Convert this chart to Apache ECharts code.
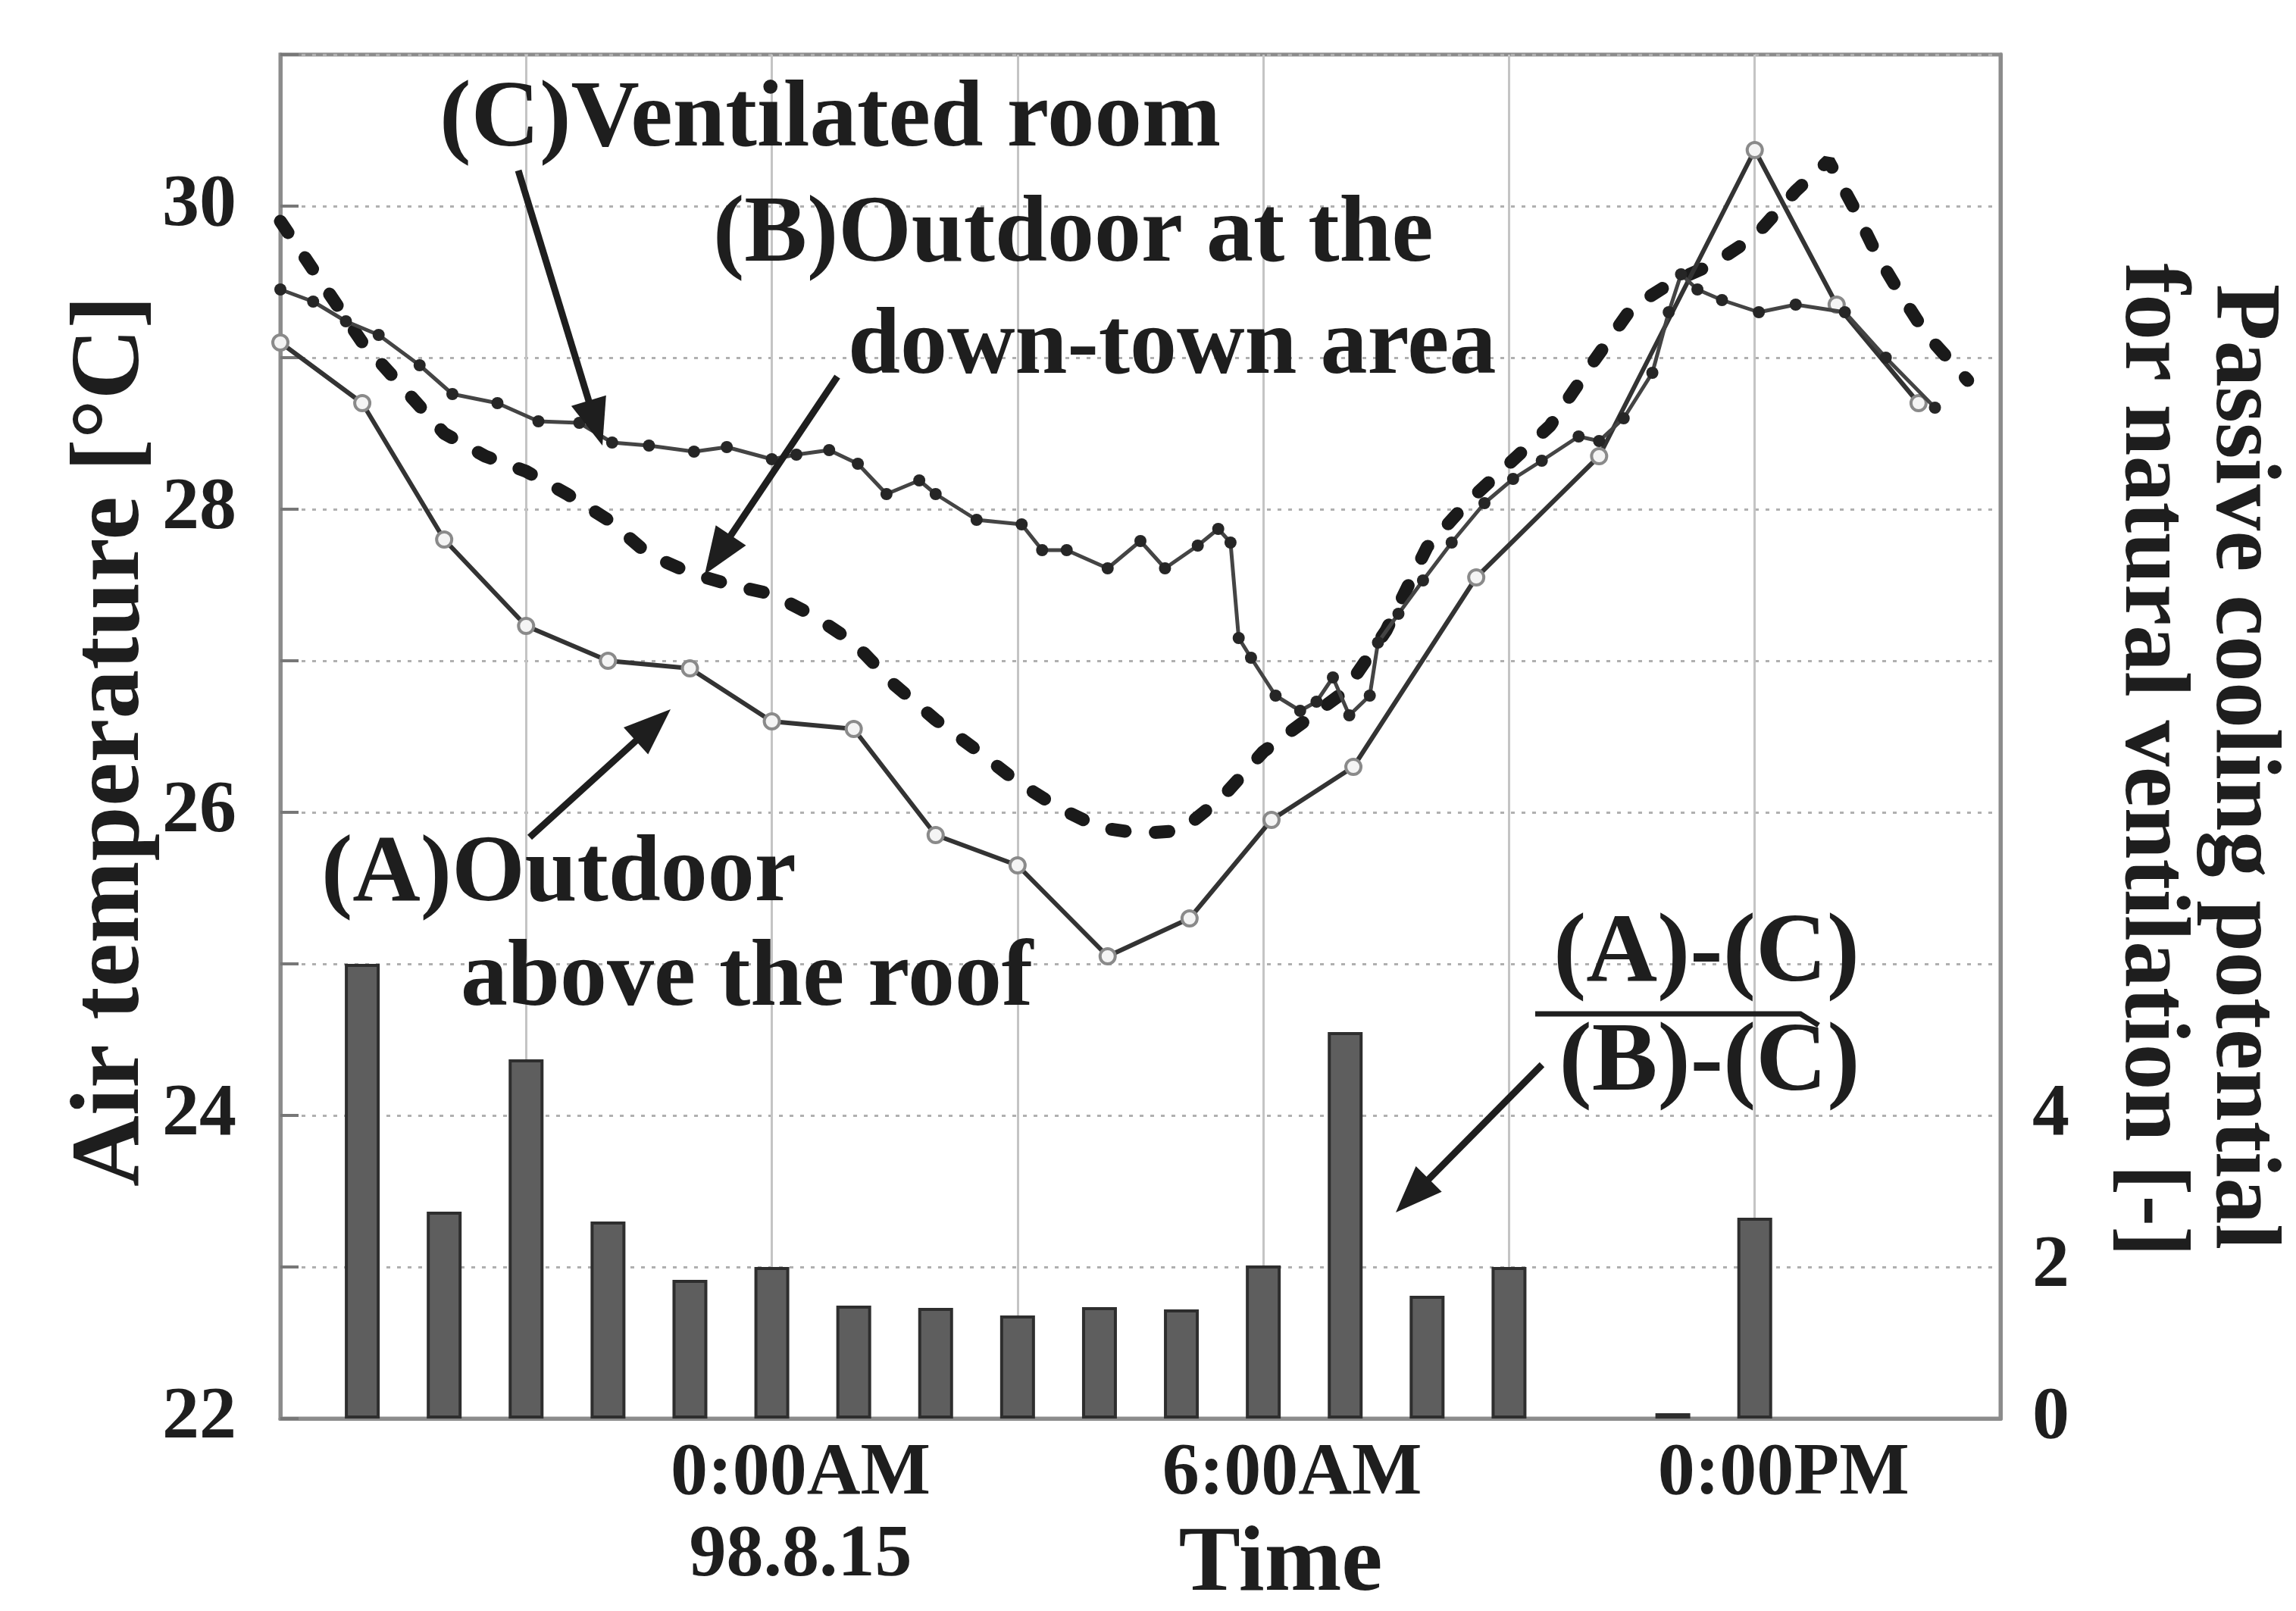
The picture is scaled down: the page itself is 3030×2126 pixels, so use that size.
<!DOCTYPE html>
<html><head><meta charset="utf-8">
<script src="https://cdn.jsdelivr.net/npm/echarts@6/dist/echarts.min.js"></script>
<style>html,body{margin:0;padding:0;background:#fff}#c{width:3030px;height:2126px}</style>
</head><body><div id="c"></div>
<script>
// ---- tick labels ----
const xTickHours = [0, 6, 12];
const xTickLabels = ['0:00AM\n98.8.15', '6:00AM', '0:00PM'];
const leftTickValues = [22, 24, 26, 28, 30];
const rightTickValues = [0, 2, 4];

// ---- (A) Outdoor above the roof (hours from 0:00 on 98.8.15, deg C) ----
const aHours = [-6, -5, -4, -3, -2, -1, 0, 1, 2, 3, 4.1, 5.1, 6.1, 7.1, 8.6, 10.1, 12, 13, 14];
const aTemps = [29.1, 28.7, 27.8, 27.23, 27.0, 26.95, 26.6, 26.55, 25.85, 25.65, 25.05, 25.3, 25.95, 26.3, 27.55, 28.35, 30.37, 29.35, 28.7];

// ---- (B) Outdoor at the down-town area ----
const bHours = [-6, -5.5, -5, -4.5, -4, -3.5, -3, -2.5, -2, -1.5, -1, -0.5, 0, 0.5, 1, 1.5, 2, 2.5, 3, 3.5, 4, 4.5, 5, 5.5, 6, 6.5, 7, 7.5, 8, 8.5, 9, 9.5, 10, 10.5, 11, 11.5, 12, 12.5, 12.9, 13.2, 13.5, 13.8, 14.1, 14.6];
const bTemps = [29.9, 29.5, 29.1, 28.8, 28.5, 28.35, 28.25, 28.1, 27.93, 27.7, 27.58, 27.5, 27.44, 27.3, 27.12, 26.84, 26.61, 26.41, 26.2, 26.03, 25.9, 25.86, 25.88, 26.1, 26.4, 26.6, 26.8, 27.2, 27.75, 28.05, 28.3, 28.55, 28.95, 29.33, 29.5, 29.62, 29.8, 30.1, 30.3, 30.0, 29.67, 29.4, 29.15, 28.85];

// ---- (C) Ventilated room ----
const cHours = [-6, -5.6, -5.2, -4.8, -4.3, -3.9, -3.35, -2.85, -2.35, -1.95, -1.5, -0.95, -0.55, 0, 0.3, 0.7, 1.05, 1.4, 1.8, 2.0, 2.5, 3.05, 3.3, 3.6, 4.1, 4.5, 4.8, 5.2, 5.45, 5.6, 5.7, 5.85, 6.15, 6.45, 6.65, 6.85, 7.05, 7.3, 7.4, 7.65, 7.95, 8.3, 8.7, 9.05, 9.4, 9.85, 10.1, 10.4, 10.75, 10.95, 11.1, 11.3, 11.6, 12.05, 12.5, 13.1, 13.6, 14.2];
const cTemps = [29.45, 29.37, 29.24, 29.15, 28.95, 28.76, 28.7, 28.58, 28.57, 28.44, 28.42, 28.38, 28.41, 28.33, 28.36, 28.39, 28.3, 28.1, 28.19, 28.1, 27.93, 27.9, 27.73, 27.73, 27.61, 27.79, 27.61, 27.76, 27.87, 27.78, 27.15, 27.02, 26.77, 26.67, 26.73, 26.89, 26.64, 26.77, 27.12, 27.31, 27.53, 27.78, 28.04, 28.2, 28.32, 28.48, 28.45, 28.6, 28.9, 29.3, 29.55, 29.45, 29.38, 29.3, 29.35, 29.3, 29.0, 28.67];

// ---- Passive cooling potential (A)-(C) / (B)-(C) ----
const barHours = [-5, -4, -3, -2, -1, 0, 1, 2, 3, 4, 5, 6, 7, 8, 9, 11, 12];
const barValues = [6.0, 2.73, 4.74, 2.6, 1.83, 2.0, 1.49, 1.46, 1.36, 1.47, 1.44, 2.02, 5.1, 1.62, 2.0, 0.07, 2.65];

const SERIF = '"Liberation Serif", "Times New Roman", serif';
const INK = '#1e1e1e';

function txt(text, x, y, size, opts) {
  opts = opts || {};
  return {
    type: 'text', x: x, y: y, rotation: opts.rotation || 0, z: 100,
    style: {
      text: text, fill: INK,
      font: 'bold ' + size + 'px ' + SERIF,
      align: opts.align || 'left', verticalAlign: 'middle',
      textAlign: opts.align || 'left', textVerticalAlign: 'middle'
    }
  };
}
function arrow(x1, y1, x2, y2) {
  const dx = x2 - x1, dy = y2 - y1, L = Math.sqrt(dx * dx + dy * dy);
  const ux = dx / L, uy = dy / L, hl = 62, hw = 24;
  const bx = x2 - ux * hl, by = y2 - uy * hl;
  return [
    { type: 'line', z: 100, shape: { x1: x1, y1: y1, x2: bx + ux * 10, y2: by + uy * 10 },
      style: { stroke: INK, lineWidth: 9 } },
    { type: 'polygon', z: 100, shape: { points: [[x2, y2], [bx - uy * hw, by + ux * hw], [bx + uy * hw, by - ux * hw]] },
      style: { fill: INK } }
  ];
}

const chart = echarts.init(document.getElementById('c'), null, { renderer: 'canvas' });
const labelFont = { fontFamily: SERIF, fontWeight: 'bold', fontSize: 98, color: INK };

chart.setOption({
  backgroundColor: '#ffffff',
  animation: false,
  grid: { left: 370, right: 390, top: 72, bottom: 254, show: true, borderColor: '#8c8c8c', borderWidth: 5, backgroundColor: 'transparent' },
  xAxis: {
    type: 'value', min: -6, max: 15, interval: 3,
    axisLine: { show: true, onZero: false, lineStyle: { color: '#8c8c8c', width: 5 } },
    axisTick: { show: false },
    splitLine: { show: true, lineStyle: { color: '#c4c4c4', width: 3 } },
    axisLabel: Object.assign({}, labelFont, {
      margin: 20, lineHeight: 108, padding: [0, 0, 0, 76],
      formatter: function (v) { const i = xTickHours.indexOf(v); return i >= 0 ? xTickLabels[i] : ''; }
    })
  },
  yAxis: [
    {
      type: 'value', min: 22, max: 31, interval: 1,
      axisLine: { show: true, onZero: false, lineStyle: { color: '#8c8c8c', width: 5 } },
      axisTick: { show: true, inside: true, length: 24, lineStyle: { color: '#777', width: 4 } },
      splitLine: { show: true, lineStyle: { color: '#b0b0b0', width: 3, type: [5, 9] } },
      axisLabel: Object.assign({}, labelFont, {
        margin: 58, padding: [26, 0, 0, 0],
        formatter: function (v) { return leftTickValues.indexOf(v) >= 0 ? String(v) : ''; }
      })
    },
    {
      type: 'value', min: 0, max: 18, interval: 2, position: 'right',
      axisLine: { show: true, onZero: false, lineStyle: { color: '#8c8c8c', width: 5 } },
      axisTick: { show: false },
      splitLine: { show: false },
      axisLabel: Object.assign({}, labelFont, {
        margin: 42, padding: [0, 0, 30, 0],
        formatter: function (v) { return rightTickValues.indexOf(v) >= 0 ? String(v) : ''; }
      })
    }
  ],
  series: [
    {
      type: 'bar', xAxisIndex: 0, yAxisIndex: 1, barWidth: 46, z: 2,
      itemStyle: { color: '#5e5e5e', borderColor: '#2e2e2e', borderWidth: 4 },
      data: barHours.map(function (h, i) { return [h, barValues[i]]; })
    },
    {
      name: '(A)', type: 'line', yAxisIndex: 0, z: 5,
      symbol: 'circle', symbolSize: 20, showSymbol: true,
      lineStyle: { color: '#333', width: 6 },
      itemStyle: { color: '#f4f4f4', borderColor: '#8a8a8a', borderWidth: 4 },
      data: aHours.map(function (h, i) { return [h, aTemps[i]]; })
    },
    {
      name: '(B)', type: 'line', yAxisIndex: 0, z: 4, symbol: 'none',
      lineStyle: { color: '#1a1a1a', width: 17, type: [18, 40], cap: 'round' },
      data: bHours.map(function (h, i) { return [h, bTemps[i]]; })
    },
    {
      name: '(C)', type: 'line', yAxisIndex: 0, z: 6,
      symbol: 'circle', symbolSize: 16, showSymbol: true,
      lineStyle: { color: '#444', width: 5 },
      itemStyle: { color: '#262626' },
      data: cHours.map(function (h, i) { return [h, cTemps[i]]; })
    }
  ],
  graphic: [
    txt('(C)Ventilated room', 580, 160, 125),
    txt('(B)Outdoor at the', 941, 312, 124),
    txt('down-town area', 1119, 460, 124),
    txt('(A)Outdoor', 424, 1156, 124),
    txt('above the roof', 608, 1294, 124),
    txt('(A)-(C)', 2252, 1260, 130, { align: 'center' }),
    txt('(B)-(C)', 2256, 1404, 130, { align: 'center' }),
    { type: 'polyline', z: 100, shape: { points: [[2026, 1338], [2376, 1338], [2400, 1353]] }, style: { stroke: INK, lineWidth: 7, fill: null } },
    txt('Air temperature [°C]', 148, 978, 130, { align: 'center', rotation: Math.PI / 2 }),
    txt('Passive cooling potential', 2958, 1012, 122, { align: 'center', rotation: -Math.PI / 2 }),
    txt('for natural ventilation [-]', 2838, 1003, 122, { align: 'center', rotation: -Math.PI / 2 }),
    txt('Time', 1690, 2066, 122, { align: 'center' })
  ].concat(arrow(684, 225, 795, 588))
   .concat(arrow(1105, 497, 930, 758))
   .concat(arrow(699, 1105, 885, 936))
   .concat(arrow(2035, 1405, 1842, 1600))
});
</script></body></html>
